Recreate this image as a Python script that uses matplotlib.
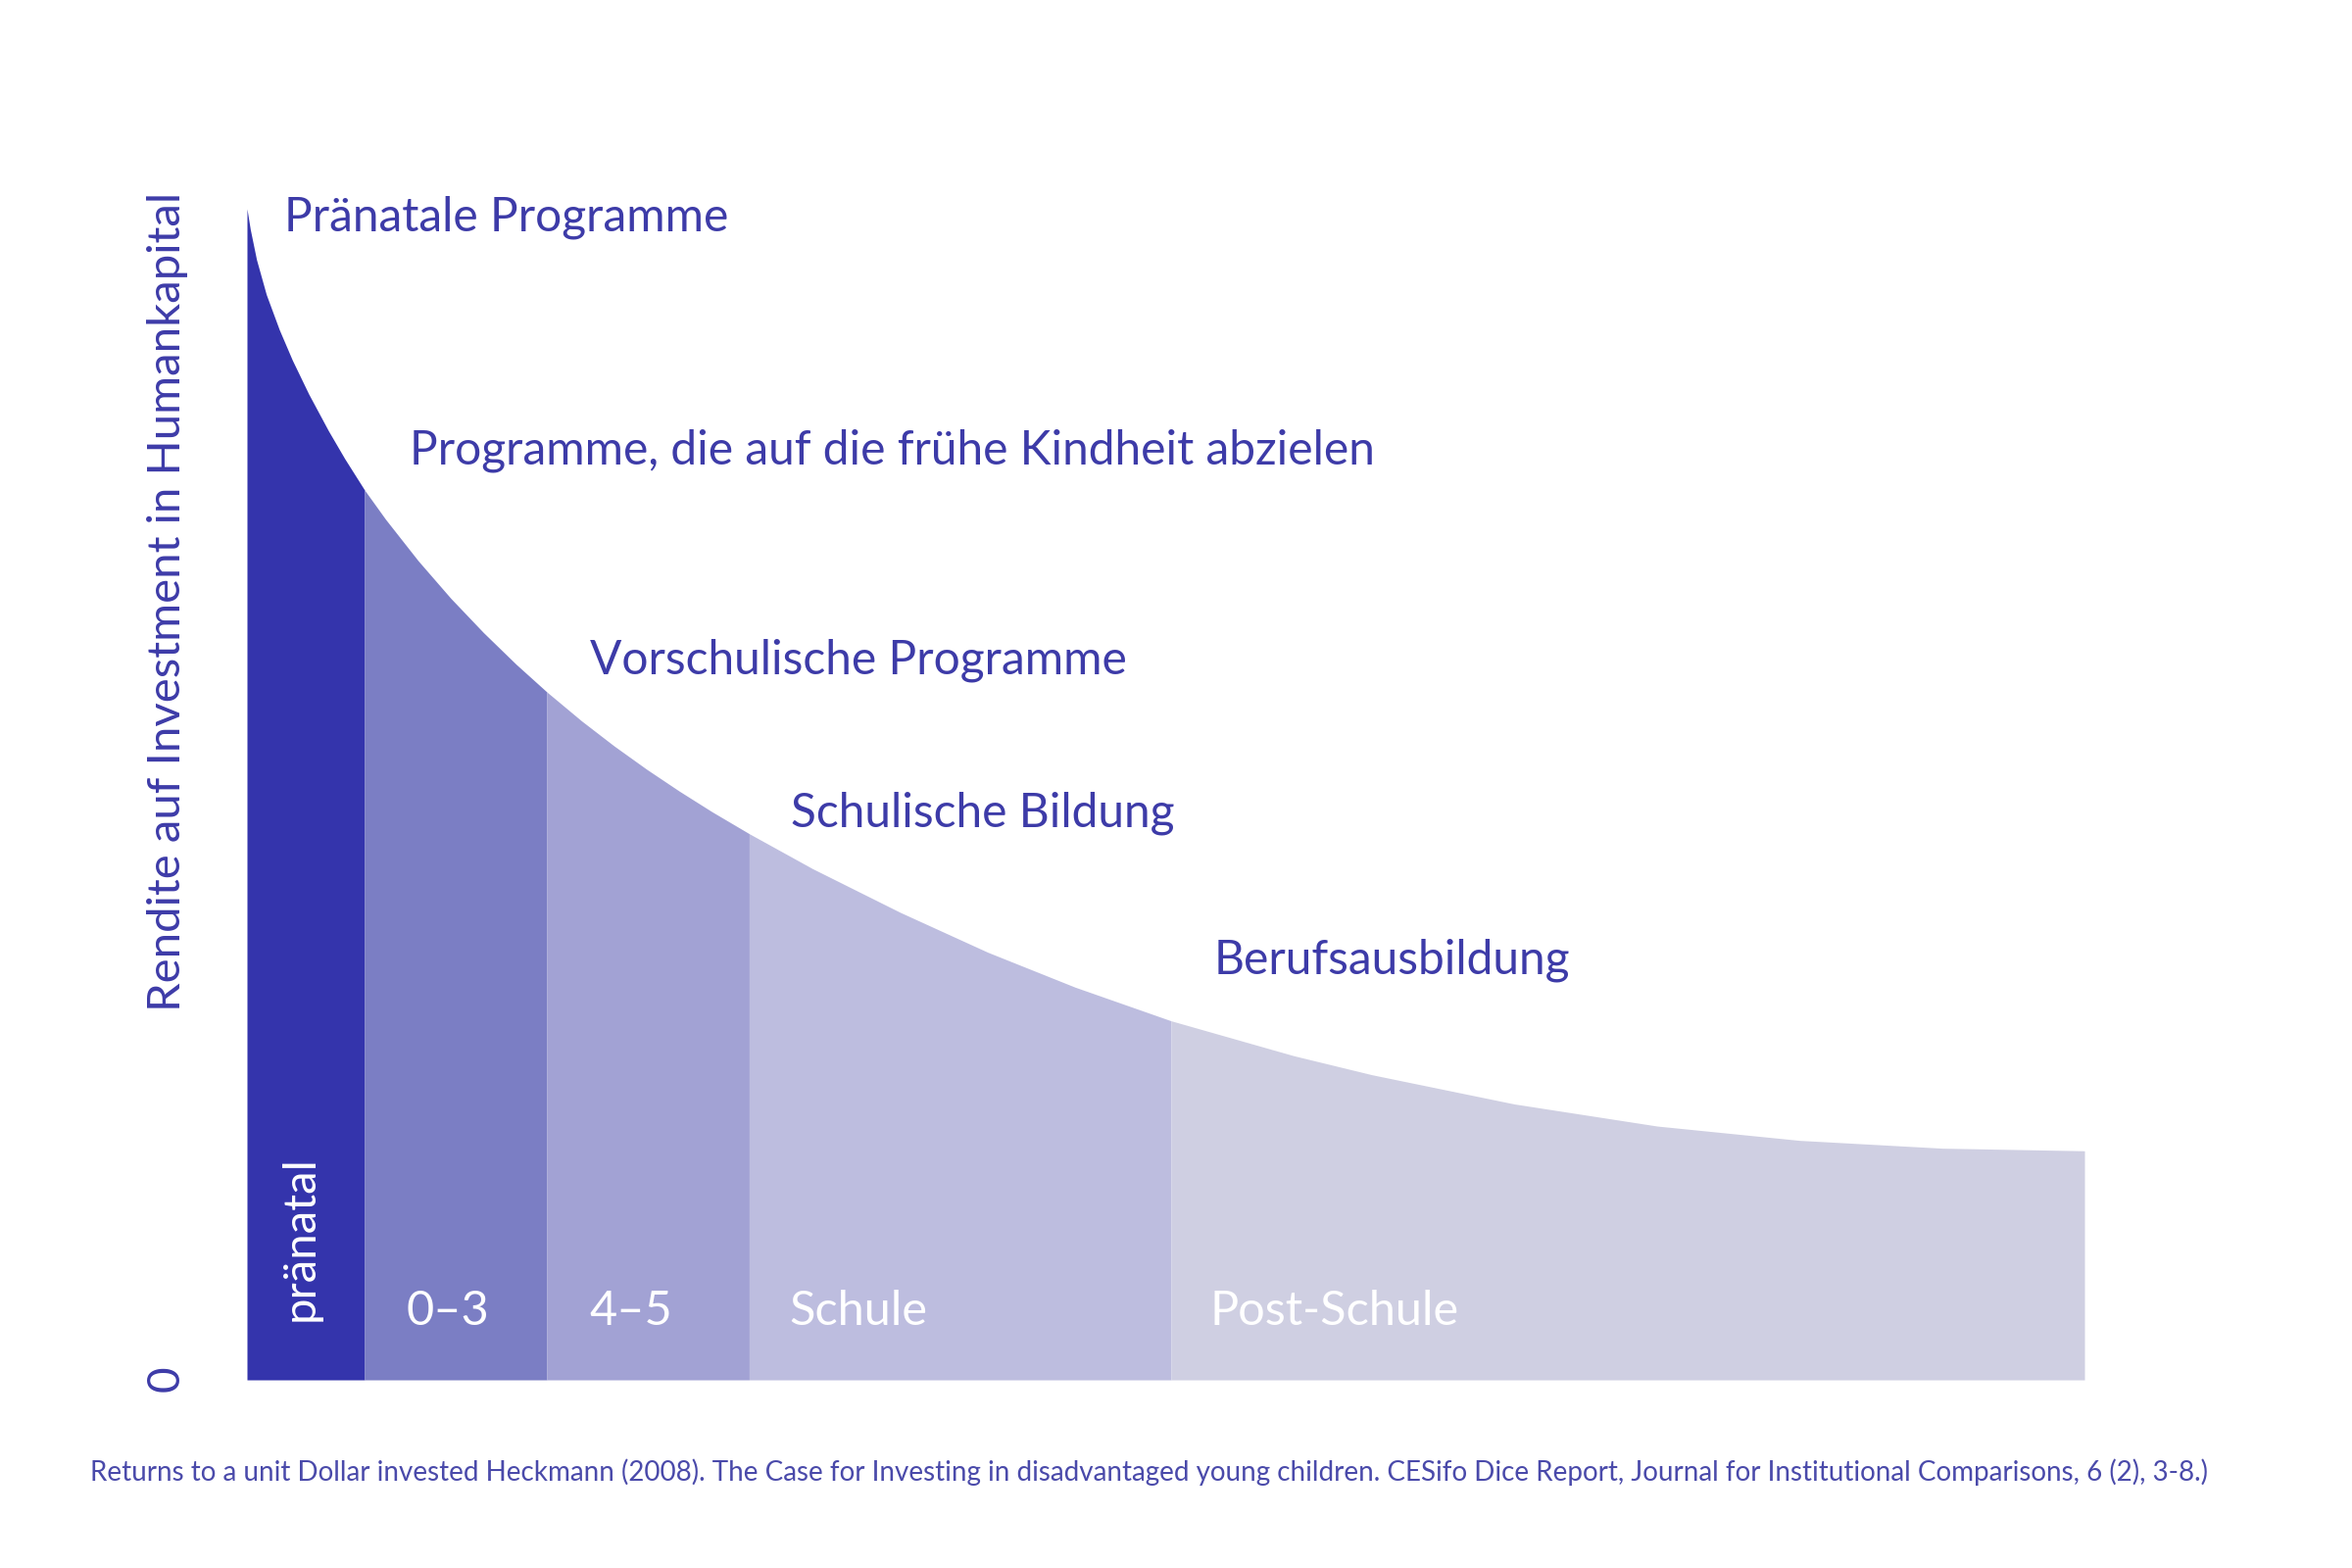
import matplotlib.pyplot as plt

plt.rcParams['font.family'] = ['Lato', 'DejaVu Sans']

# stages along the time axis (0-100) and their fill colours
stages = ['pränatal', '0–3', '4–5', 'Schule', 'Post-Schule']
stage_edges = [0, 6.40, 16.32, 27.33, 50.29, 100]
stage_colors = ['#3434AC', '#7B7EC4', '#A2A2D4', '#BDBDDF', '#CFCFE2']

# programme labels written above the curve
programmes = ['Pränatale Programme',
              'Programme, die auf die frühe Kindheit abzielen',
              'Vorschulische Programme',
              'Schulische Bildung',
              'Berufsausbildung']

# returns curve (x: 0-100 along the axis, y: 0-100 of max return)
curve_x = [0, 0.18, 0.52, 1.05, 1.76, 2.47, 3.36, 4.43, 5.32, 6.40, 7.54, 9.32,
           11.09, 12.87, 14.65, 16.32, 18.20, 19.98, 21.76, 23.54, 25.32, 27.33,
           30.77, 35.55, 40.32, 45.07, 50.29, 56.96, 61.23, 68.96, 76.75, 84.48,
           92.27, 100]
curve_y = [100, 98.24, 95.65, 92.68, 89.67, 87.07, 84.18, 81.05, 78.66, 75.98,
           73.49, 69.94, 66.74, 63.81, 61.10, 58.74, 56.28, 54.13, 52.13, 50.26,
           48.50, 46.64, 43.66, 39.92, 36.51, 33.53, 30.66, 27.68, 26.05, 23.56,
           21.67, 20.45, 19.78, 19.56]

ylabel = 'Rendite auf Investment in Humankapital'
caption = ('Returns to a unit Dollar invested Heckmann (2008). The Case for Investing in '
           'disadvantaged young children. CESifo Dice Report, Journal for Institutional '
           'Comparisons, 6 (2), 3-8.)')

W, H = 2400, 1600
label_color = '#3D3BA8'


def fx(x):
    return x / W


def fy(y):
    return 1 - y / H


fig = plt.figure(figsize=(24, 16), dpi=100, facecolor='white')
ax = fig.add_axes([fx(252), fy(1408), fx(2127) - fx(252), fy(213) - fy(1408)])
ax.set_xlim(0, 100)
ax.set_ylim(0, 100)
ax.axis('off')

for i, color in enumerate(stage_colors):
    lo, hi = stage_edges[i], stage_edges[i + 1]
    xs = [x for x in curve_x if lo <= x <= hi]
    ys = [y for x, y in zip(curve_x, curve_y) if lo <= x <= hi]
    ax.fill_between(xs, 0, ys, color=color, linewidth=0)

# programme labels (left x, baseline y in pixels)
prog_pos = [(290, 235), (418, 474), (602, 688), (807, 844), (1239, 993)]
for text, (x, y) in zip(programmes, prog_pos):
    fig.text(fx(x), fy(y), text, fontsize=34.5, color=label_color,
             ha='left', va='baseline')

# stage labels inside the bars
fig.text(fx(307), fy(1348), stages[0], fontsize=34, color='white',
         rotation=90, ha='center', va='bottom')
stage_pos = [415, 601, 805, 1235]
for text, x in zip(stages[1:], stage_pos):
    fig.text(fx(x), fy(1352), text, fontsize=35, color='white',
             ha='left', va='baseline')

# y axis label and zero
fig.text(fx(171), fy(1032), ylabel, fontsize=34, color=label_color,
         rotation=90, ha='center', va='bottom')
fig.text(fx(170), fy(1407), '0', fontsize=33, color=label_color,
         rotation=90, ha='center', va='center')

fig.text(fx(92), fy(1511), caption, fontsize=20, color='#4A4AAA',
         ha='left', va='baseline')

fig.savefig('out.png', dpi=100, facecolor='white')
